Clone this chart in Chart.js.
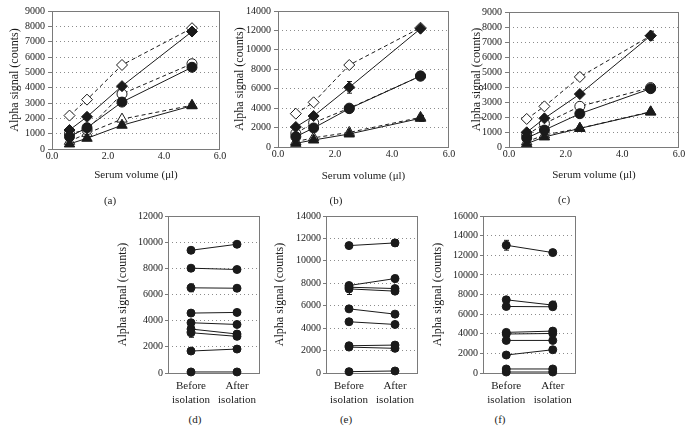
<!DOCTYPE html>
<html><head><meta charset="utf-8">
<script src="https://cdn.jsdelivr.net/npm/chart.js@4/dist/chart.umd.min.js"></script>
<style>
body{margin:0;background:#fff;width:691px;height:442px;position:relative;overflow:hidden;font-family:'Liberation Serif','Times New Roman',serif;}
canvas{position:absolute;}
.cap{position:absolute;font-size:11px;line-height:13px;color:#222;transform:translateX(-50%);}
</style></head><body>
<canvas id="ca"></canvas><canvas id="cb"></canvas><canvas id="cc"></canvas>
<canvas id="cd"></canvas><canvas id="ce"></canvas><canvas id="cf"></canvas>
<div class="cap" style="left:110px;top:194px">(a)</div>
<div class="cap" style="left:336px;top:194px">(b)</div>
<div class="cap" style="left:564px;top:193px">(c)</div>
<div class="cap" style="left:195px;top:413px">(d)</div>
<div class="cap" style="left:346px;top:413px">(e)</div>
<div class="cap" style="left:500px;top:413px">(f)</div>
<script>
// serum volume dilution panels (a)-(c)
const SERUM=[0.625,1.25,2.5,5];
const X_TICKS=[0,2,4,6];
const A_DIA_OPEN=[2180,3220,5480,7880];
const A_DIA=[1240,2100,4100,7660];
const A_CIR_OPEN=[1000,1250,3590,5560];
const A_CIR=[800,1390,3060,5330];
const A_TRI_OPEN=[500,1020,1950,2850];
const A_TRI=[330,700,1550,2820];

const B_DIA_OPEN=[3430,4600,8440,12280];
const B_DIA=[2060,3190,6140,12180];
const B_DIA_ERR=[0,0,600,0];
const B_CIR_OPEN=[1400,2500,4000,7300];
const B_CIR=[1060,1960,3950,7310];
const B_TRI_OPEN=[550,950,1500,3050];
const B_TRI=[380,720,1340,2950];
const B_TRI_ERR=[0,0,0,300];

const C_DIA_OPEN=[1870,2710,4670,7420];
const C_DIA=[980,1910,3530,7420];
const C_DIA_ERR=[0,0,0,300];
const C_CIR_OPEN=[800,1560,2710,3960];
const C_CIR=[600,1130,2220,3890];
const C_TRI_OPEN=[350,800,1250,2350];
const C_TRI=[220,670,1240,2330];

// before / after isolation panels (d)-(f)
const ISO_LABELS=[['Before','isolation'],['After','isolation']];
const D_BEFORE=[9380,8010,6510,4580,3840,3360,3080,1680,80];
const D_AFTER=[9840,7910,6480,4630,3710,2980,2800,1830,80];
const D_ERR_BEFORE=[0,0,300,0,0,0,350,0,0];
const D_ERR_AFTER=[0,0,0,0,0,0,0,0,0];
const E_BEFORE=[11360,7800,7650,7500,5720,4570,2430,2310,120];
const E_AFTER=[11600,8420,7530,7300,5250,4330,2490,2200,180];
const E_ERR_BEFORE=[0,0,0,500,0,0,0,0,0];
const E_ERR_AFTER=[300,300,0,0,0,0,0,0,0];
const F_BEFORE=[13020,7460,6780,4140,3970,3320,1830,410,100];
const F_AFTER=[12270,6920,6750,4270,4030,3320,2370,410,100];
const F_ERR_BEFORE=[500,0,0,0,0,0,0,0,0];
const F_ERR_AFTER=[0,400,0,0,0,0,0,0,0];

const FONT="'Liberation Serif','Times New Roman',serif";
const INK='#1a1a1a', BOX='#7a7a7a', GRIDC='#8c8c8c';

const frame={id:'frame',
  beforeDatasetsDraw(c){
    const a=c.chartArea,x=c.ctx;
    x.save();x.strokeStyle=BOX;x.lineWidth=1;
    x.strokeRect(Math.round(a.left)+0.5,Math.round(a.top)+0.5,Math.round(a.right-a.left)-1,Math.round(a.bottom-a.top));
    x.restore();
  },
  afterDatasetsDraw(c){
    const x=c.ctx, ys=c.scales.y;
    x.save();x.strokeStyle=INK;x.lineWidth=1;
    c.data.datasets.forEach((ds,i)=>{
      if(!ds.errs) return;
      c.getDatasetMeta(i).data.forEach((pt,j)=>{
        const e=ds.errs[j]; if(!e) return;
        const d=ds.data[j], v=(typeof d==='object')?d.y:d;
        const y1=ys.getPixelForValue(v-e), y2=ys.getPixelForValue(v+e), px=Math.round(pt.x)+0.5;
        x.beginPath();x.moveTo(px,y1);x.lineTo(px,y2);
        x.moveTo(px-2.5,y1);x.lineTo(px+2.5,y1);x.moveTo(px-2.5,y2);x.lineTo(px+2.5,y2);x.stroke();
      });
    });
    x.restore();
  }
};

function yAxis(max,step,w,tl,tp){
  return {min:0,max:max,afterFit:s=>{s.width=w;},
    ticks:{stepSize:step,color:INK,font:{family:FONT,size:10},padding:tp,callback:v=>String(v)},
    grid:{color:c=>(c.tick.value===0||c.tick.value===max)?'rgba(0,0,0,0)':GRIDC,tickColor:BOX,tickLength:tl,tickBorderDash:[]},
    border:{display:false,dash:[1,3]},
    title:{display:true,text:'Alpha signal (counts)',color:INK,font:{family:FONT,size:12},padding:{top:2,bottom:0}}};
}

function serie(xs,ys,style,filled,dashed,r,errs){
  return {data:ys.map((v,i)=>({x:xs[i],y:v})),errs:errs,
    borderColor:INK,borderWidth:1,borderDash:dashed?[4,3]:[],
    pointStyle:style,pointRadius:r,pointHoverRadius:r,pointBorderWidth:1,
    pointBorderColor:INK,pointBackgroundColor:filled?INK:'#fff',clip:false,tension:0};
}

function serumPanel(id,geo,max,step,sets){
  const el=document.getElementById(id);
  el.width=geo.w;el.height=geo.h;el.style.left=geo.l+'px';el.style.top=geo.t+'px';
  new Chart(el,{type:'line',plugins:[frame],
    data:{datasets:sets},
    options:{responsive:false,animation:false,events:[],
      layout:{padding:{top:10,right:geo.pr,left:0,bottom:0}},
      plugins:{legend:{display:false},tooltip:{enabled:false}},
      scales:{
        x:{type:'linear',min:0,max:6,afterFit:s=>{s.height=geo.xh;},
          afterBuildTicks:s=>{s.ticks=X_TICKS.map(v=>({value:v}));},
          ticks:{color:INK,font:{family:FONT,size:10},padding:1,callback:v=>v.toFixed(1),maxRotation:0},
          grid:{drawOnChartArea:false,drawTicks:false},border:{display:false},
          title:{display:true,text:'Serum volume (μl)',color:INK,font:{family:FONT,size:11},padding:{top:0,bottom:2}}},
        y:yAxis(max,step,geo.yw,4,3)
      }}});
}

function isoSets(before,after,eb,ea){
  return before.map((b,i)=>({data:[b,after[i]],errs:[eb[i],ea[i]],
    borderColor:INK,borderWidth:1,pointStyle:'circle',pointRadius:4,pointHoverRadius:4,
    pointBorderColor:INK,pointBackgroundColor:INK,clip:false}));
}

function isoPanel(id,geo,max,sets){
  const el=document.getElementById(id);
  el.width=geo.w;el.height=geo.h;el.style.left=geo.l+'px';el.style.top=geo.t+'px';
  new Chart(el,{type:'line',plugins:[frame],
    data:{labels:ISO_LABELS,datasets:sets},
    options:{responsive:false,animation:false,events:[],
      layout:{padding:{top:10,right:geo.pr,left:0,bottom:0}},
      plugins:{legend:{display:false},tooltip:{enabled:false}},
      scales:{
        x:{type:'category',offset:true,afterFit:s=>{s.height=geo.xh;},
          ticks:{color:INK,font:{family:FONT,size:11},padding:7,maxRotation:0},
          grid:{drawOnChartArea:false,drawTicks:false,offset:true},border:{display:false}},
        y:yAxis(max,2000,geo.yw,3,2)
      }}});
}

serumPanel('ca',{l:6,t:1,w:224,h:183,pr:10,yw:46,xh:35},9000,1000,[
  serie(SERUM,A_DIA,'rectRot',true,false,5.5),
  serie(SERUM,A_CIR,'circle',true,false,5),
  serie(SERUM,A_TRI,'triangle',true,false,6),
  serie(SERUM,A_DIA_OPEN,'rectRot',false,true,5.5),
  serie(SERUM,A_CIR_OPEN,'circle',false,true,5),
  serie(SERUM,A_TRI_OPEN,'triangle',false,true,6)
]);
serumPanel('cb',{l:231,t:1,w:228,h:184,pr:10,yw:47,xh:38},14000,2000,[
  serie(SERUM,B_DIA,'rectRot',true,false,5.5,B_DIA_ERR),
  serie(SERUM,B_CIR,'circle',true,false,5),
  serie(SERUM,B_TRI,'triangle',true,false,6,B_TRI_ERR),
  serie(SERUM,B_DIA_OPEN,'rectRot',false,true,5.5),
  serie(SERUM,B_CIR_OPEN,'circle',false,true,5),
  serie(SERUM,B_TRI_OPEN,'triangle',false,true,6)
]);
serumPanel('cc',{l:468,t:2,w:223,h:182,pr:12,yw:41,xh:37},9000,1000,[
  serie(SERUM,C_DIA,'rectRot',true,false,5.5,C_DIA_ERR),
  serie(SERUM,C_CIR,'circle',true,false,5),
  serie(SERUM,C_TRI,'triangle',true,false,6),
  serie(SERUM,C_DIA_OPEN,'rectRot',false,true,5.5),
  serie(SERUM,C_CIR_OPEN,'circle',false,true,5),
  serie(SERUM,C_TRI_OPEN,'triangle',false,true,6)
]);
isoPanel('cd',{l:114,t:206,w:156,h:204,pr:10,yw:54,xh:37},12000,isoSets(D_BEFORE,D_AFTER,D_ERR_BEFORE,D_ERR_AFTER));
isoPanel('ce',{l:271,t:206,w:157,h:204,pr:10,yw:55,xh:37},14000,isoSets(E_BEFORE,E_AFTER,E_ERR_BEFORE,E_ERR_AFTER));
isoPanel('cf',{l:429,t:206,w:157,h:204,pr:10,yw:54,xh:37},16000,isoSets(F_BEFORE,F_AFTER,F_ERR_BEFORE,F_ERR_AFTER));
</script>
</body></html>
